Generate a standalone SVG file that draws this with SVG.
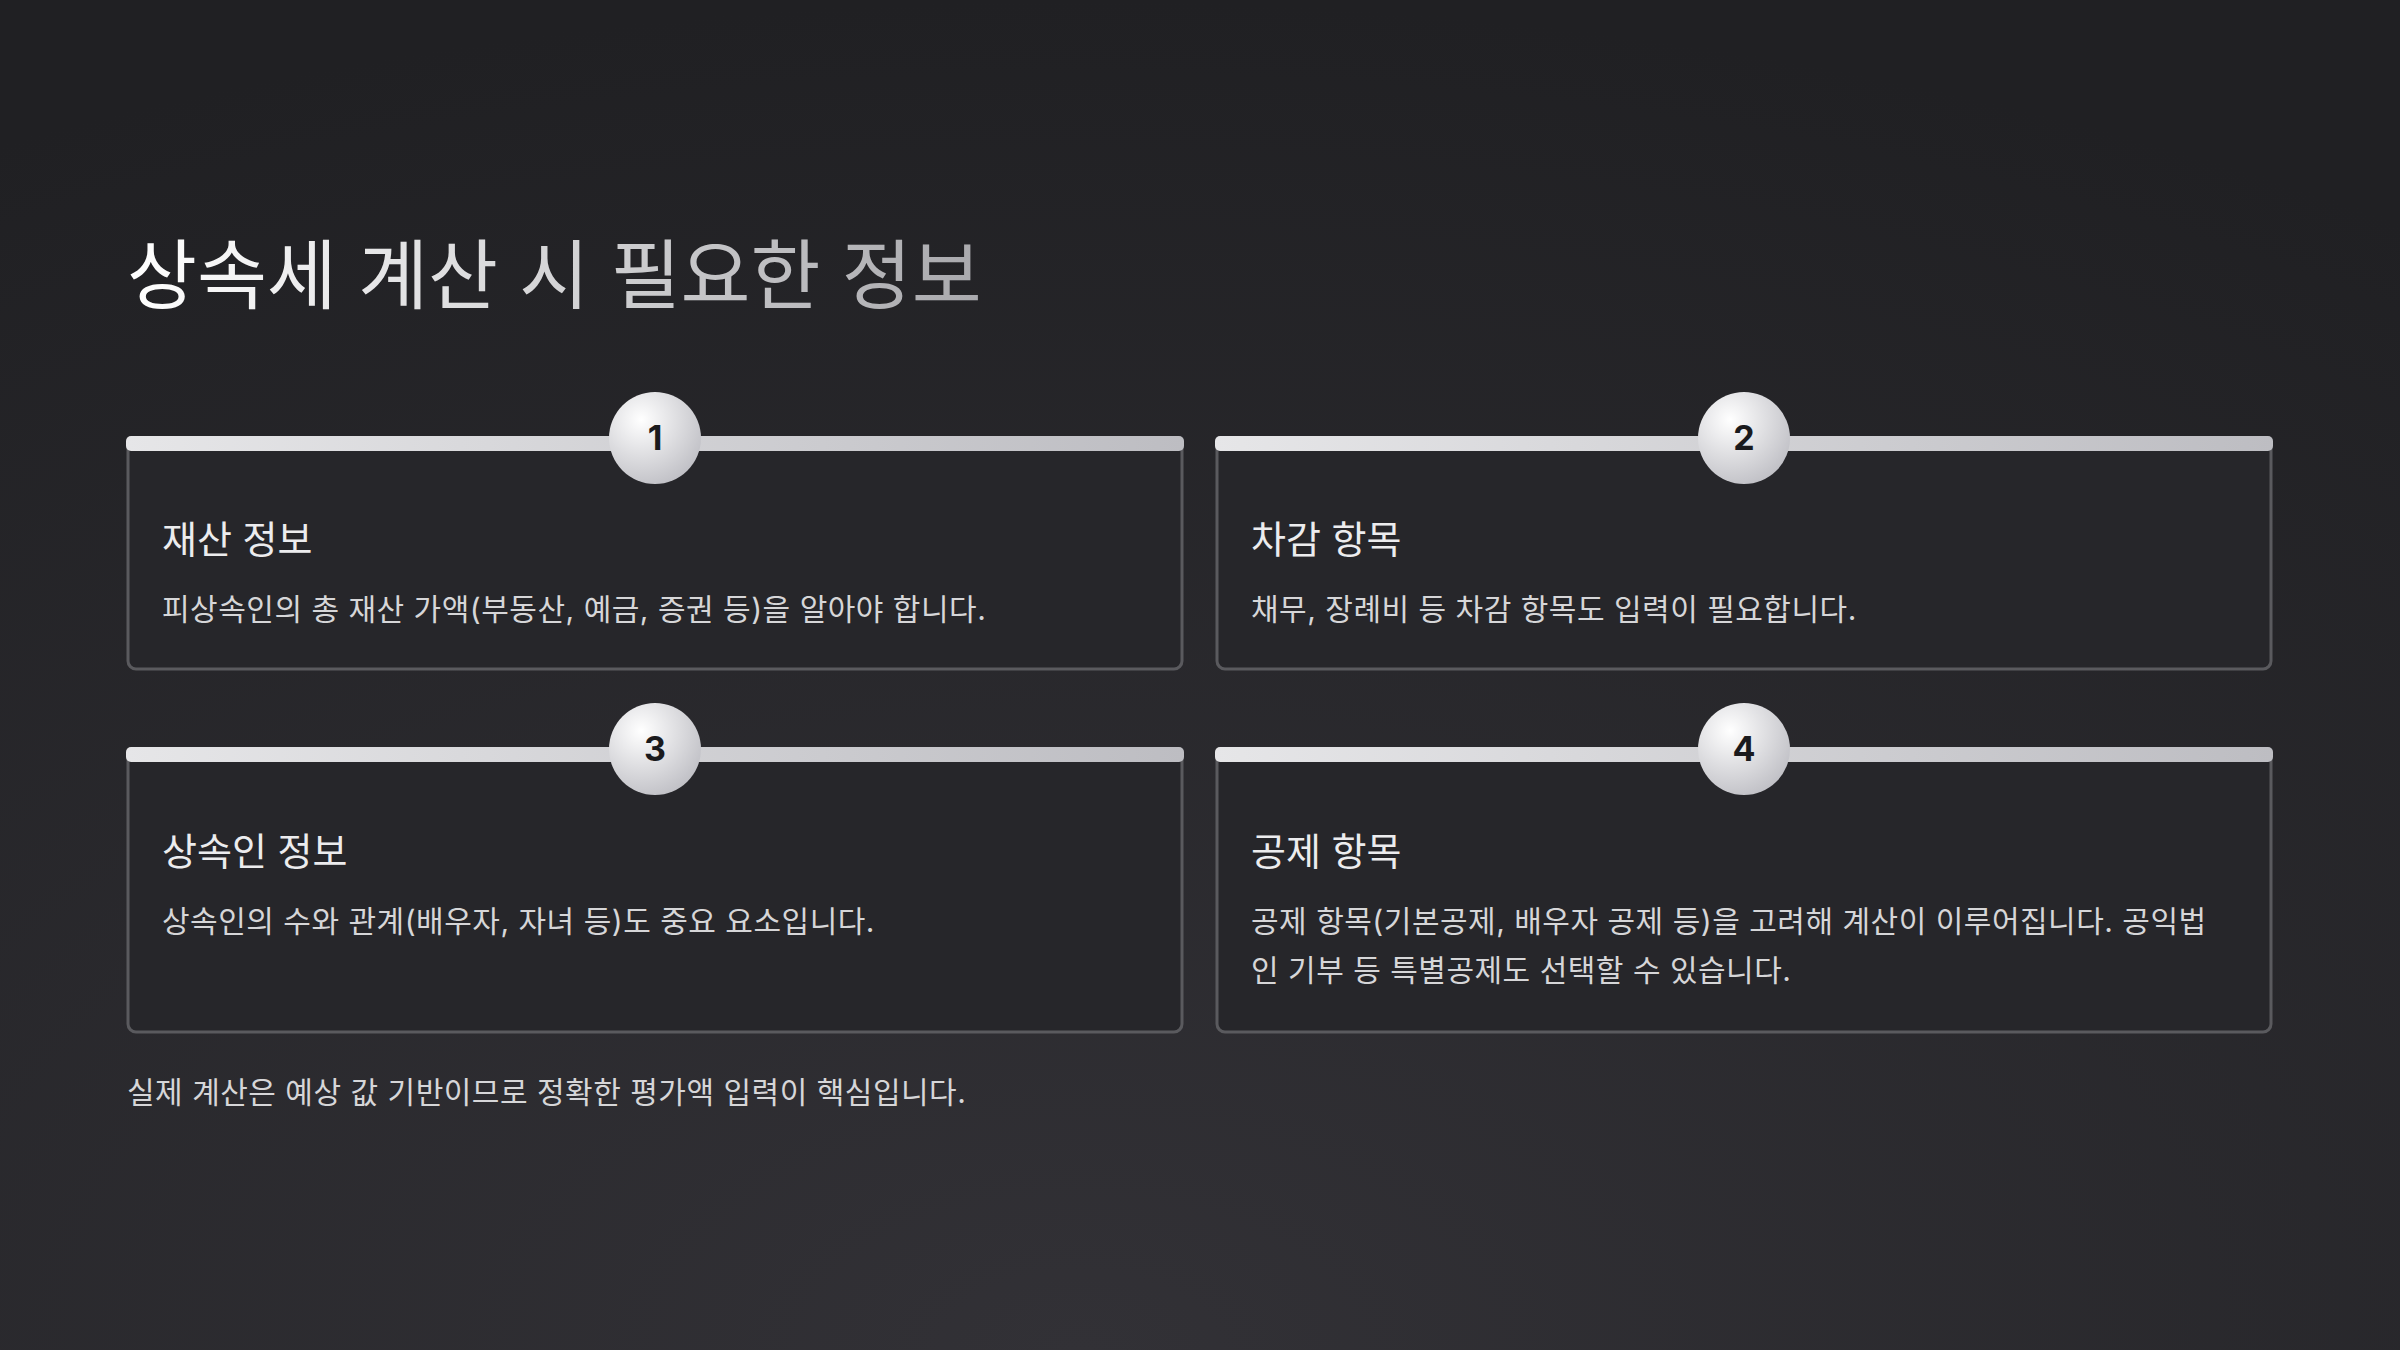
<svg xmlns="http://www.w3.org/2000/svg" width="2400" height="1350" viewBox="0 0 2400 1350">
<defs>
<radialGradient id="bg" cx="0.45" cy="1" r="1">
<stop offset="0" stop-color="#323136"/><stop offset="1" stop-color="#202023"/>
</radialGradient>
<linearGradient id="tg" x1="0" y1="0" x2="1" y2="0">
<stop offset="0" stop-color="#ffffff"/><stop offset="1" stop-color="#a9a9ad"/>
</linearGradient>
<linearGradient id="bar" x1="0" y1="0" x2="1" y2="0">
<stop offset="0" stop-color="#e6e6e8"/><stop offset="1" stop-color="#bdbdc2"/>
</linearGradient>
<radialGradient id="circ" cx="0.35" cy="0.3" r="0.8">
<stop offset="0" stop-color="#ffffff"/><stop offset="1" stop-color="#bcbcc2"/>
</radialGradient>
<style>
.card{fill:#26262a;stroke:#5a5a5e;stroke-width:3}
.h{font-family:"Inter","Noto Sans CJK KR",sans-serif;font-size:38px;fill:#ececee}
.b{font-family:"Inter","Noto Sans CJK KR",sans-serif;font-size:30px;letter-spacing:0.5px;fill:#d6d6d8}
.n{font-family:"Inter","Noto Sans CJK KR",sans-serif;font-size:34px;font-weight:700;fill:#1a1a1d;text-anchor:middle}
</style>
</defs>
<rect width="2400" height="1350" fill="url(#bg)"/>
<text x="127" y="303" font-family="Inter,'Noto Sans CJK KR',sans-serif" font-size="76" fill="url(#tg)">상속세 계산 시 필요한 정보</text>
<g id="card1">
<rect class="card" x="128" y="440" width="1054" height="229" rx="8"/>
<rect x="126" y="436" width="1058" height="15" rx="5" fill="url(#bar)"/>
<circle cx="655" cy="438" r="46" fill="url(#circ)"/>
<text class="n" x="655" y="450">1</text>
<text class="h" x="162" y="553">재산 정보</text>
<text class="b" x="162" y="620">피상속인의 총 재산 가액(부동산, 예금, 증권 등)을 알아야 합니다.</text>
</g>
<g id="card2">
<rect class="card" x="1217" y="440" width="1054" height="229" rx="8"/>
<rect x="1215" y="436" width="1058" height="15" rx="5" fill="url(#bar)"/>
<circle cx="1744" cy="438" r="46" fill="url(#circ)"/>
<text class="n" x="1744" y="450">2</text>
<text class="h" x="1251" y="553">차감 항목</text>
<text class="b" x="1251" y="620">채무, 장례비 등 차감 항목도 입력이 필요합니다.</text>
</g>
<g id="card3">
<rect class="card" x="128" y="751" width="1054" height="281" rx="8"/>
<rect x="126" y="747" width="1058" height="15" rx="5" fill="url(#bar)"/>
<circle cx="655" cy="749" r="46" fill="url(#circ)"/>
<text class="n" x="655" y="761">3</text>
<text class="h" x="162" y="865">상속인 정보</text>
<text class="b" x="162" y="932">상속인의 수와 관계(배우자, 자녀 등)도 중요 요소입니다.</text>
</g>
<g id="card4">
<rect class="card" x="1217" y="751" width="1054" height="281" rx="8"/>
<rect x="1215" y="747" width="1058" height="15" rx="5" fill="url(#bar)"/>
<circle cx="1744" cy="749" r="46" fill="url(#circ)"/>
<text class="n" x="1744" y="761">4</text>
<text class="h" x="1251" y="865">공제 항목</text>
<text class="b" x="1251" y="932">공제 항목(기본공제, 배우자 공제 등)을 고려해 계산이 이루어집니다. 공익법</text>
<text class="b" x="1251" y="981">인 기부 등 특별공제도 선택할 수 있습니다.</text>
</g>
<g id="connectors"/>
<text class="b" x="127" y="1103">실제 계산은 예상 값 기반이므로 정확한 평가액 입력이 핵심입니다.</text>
</svg>
